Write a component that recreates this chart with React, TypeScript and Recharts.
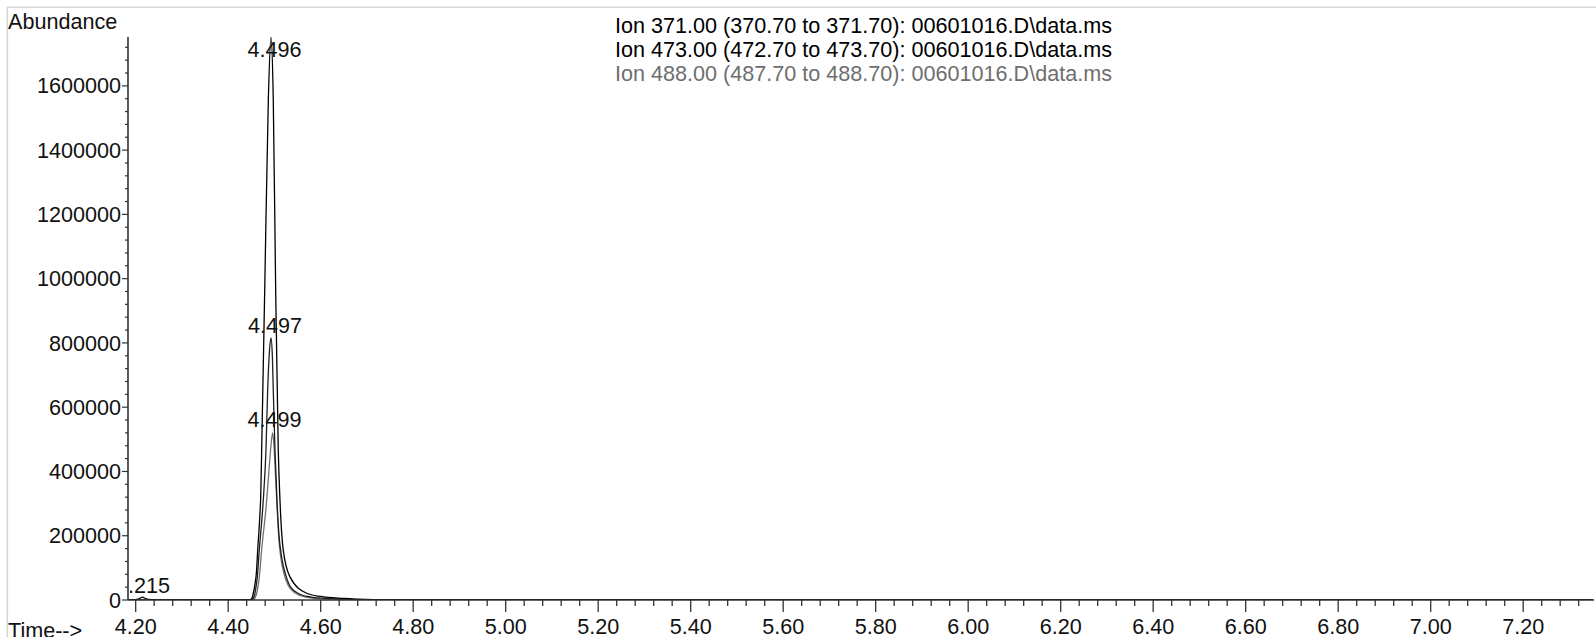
import React from 'react';
import { LineChart, Line, XAxis, YAxis, ReferenceDot } from 'recharts';

const FONT = '"Liberation Sans", Arial, sans-serif';
const FS = 21.6;
const AX = '#333333';

// Ion 371.00 series: [time (min), abundance]
const ion371Pts: [number, number][] = [
  [4.184, 0], [4.2, 1000], [4.205, 2500], [4.21, 6000], [4.215, 9000], [4.22, 5500], [4.228, 2000],
  [4.24, 800], [4.3, 500], [4.4, 500], [4.445, 600], [4.448, 1200], [4.452, 8000], [4.455, 25000],
  [4.458, 50000], [4.461, 85000], [4.464, 160000], [4.468, 250000], [4.4705, 330000], [4.4724, 467000],
  [4.479, 965000], [4.4868, 1556000], [4.4925, 1752000], [4.4975, 1556000], [4.5027, 965000],
  [4.5083, 467000], [4.512, 311000], [4.519, 156000], [4.5336, 72000], [4.5697, 21000], [4.6, 11000],
  [4.65, 5000], [4.69, 2000], [4.75, 1000], [5.0, 800], [5.5, 600], [6.0, 500], [6.5, 500], [7.0, 400],
  [7.35, 400],
];

// Ion 473.00 series
const ion473Pts: [number, number][] = [
  [4.184, 0], [4.3, 300], [4.445, 300], [4.452, 2000], [4.456, 10000], [4.459, 30000], [4.463, 72000],
  [4.4673, 156000], [4.4759, 311000], [4.4817, 467000], [4.4854, 654000], [4.4895, 780000],
  [4.4925, 816000], [4.4955, 760000], [4.4975, 654000], [4.5012, 467000], [4.5055, 311000],
  [4.51, 200000], [4.516, 130000], [4.525, 75000], [4.535, 40000], [4.555, 18000], [4.58, 9000],
  [4.62, 4000], [4.67, 1500], [4.75, 600], [5.5, 400], [7.35, 300],
];

// Ion 488.00 series
const ion488Pts: [number, number][] = [
  [4.184, 0], [4.45, 200], [4.455, 2000], [4.4585, 8000], [4.4616, 21000], [4.4673, 72000],
  [4.4724, 156000], [4.4833, 311000], [4.488, 400000], [4.4925, 480000], [4.496, 520000],
  [4.4995, 470000], [4.5025, 380000], [4.505, 311000], [4.509, 200000], [4.514, 130000],
  [4.521, 80000], [4.53, 45000], [4.545, 22000], [4.565, 10000], [4.6, 4000], [4.65, 1500],
  [4.7, 600], [5.5, 300], [7.35, 200],
];

// Peak annotations
const peakTimes = [4.4925, 4.4925, 4.496, 4.215];
const peakValues = [1752000, 816000, 520000, 9000];
const peakLabels = ['4.496', '4.497', '4.499', '4.215'];

const xMajorTicks = [4.2, 4.4, 4.6, 4.8, 5.0, 5.2, 5.4, 5.6, 5.8, 6.0, 6.2, 6.4, 6.6, 6.8, 7.0, 7.2];
const xMinorTicks: number[] = Array.from({ length: 79 }, (_, i) => Math.round((4.2 + i * 0.04) * 100) / 100);
const yMajorTicks = [0, 200000, 400000, 600000, 800000, 1000000, 1200000, 1400000, 1600000];
const yMinorTicks: number[] = Array.from({ length: 44 }, (_, i) => i * 40000);

const titleLines = [
  'Ion 371.00 (370.70 to 371.70): 00601016.D\\data.ms',
  'Ion 473.00 (472.70 to 473.70): 00601016.D\\data.ms',
  'Ion 488.00 (487.70 to 488.70): 00601016.D\\data.ms',
];
const titleColors = ['#000000', '#000000', '#6e6e6e'];

const toRows = (pts: [number, number][]) => pts.map(([t, v]) => ({ t, v }));
const s371 = toRows(ion371Pts);
const s473 = toRows(ion473Pts);
const s488 = toRows(ion488Pts);

const X_MIN = 4.1834;
const X_MAX = 7.3531;
const Y_MAX = 1752000;
const PLOT_LEFT = 128;

const isIn = (arr: number[], v: number) => arr.some((m) => Math.abs(m - v) < 1e-6);

const XTick = (props: any) => {
  const { x, y, payload } = props;
  const v = payload.value as number;
  const major = isIn(xMajorTicks, v);
  return (
    <g>
      <line x1={x} y1={y} x2={x} y2={y + (major ? 12 : 6)} stroke={AX} strokeWidth={1.3} />
      {major && (
        <text x={x} y={y + 33.5} textAnchor="middle" fontSize={FS} fontFamily={FONT} fill="#111">
          {v.toFixed(2)}
        </text>
      )}
    </g>
  );
};

const YTick = (props: any) => {
  const { x, y, payload } = props;
  const v = payload.value as number;
  const major = isIn(yMajorTicks, v);
  return (
    <g>
      <line x1={x} y1={y} x2={x - (major ? 6 : 3)} y2={y} stroke={AX} strokeWidth={1.2} />
      {major && (
        <text x={x - 7} y={y + 7.6} textAnchor="end" fontSize={FS} fontFamily={FONT} fill="#111">
          {String(v)}
        </text>
      )}
    </g>
  );
};

const labelOffsets = [
  { dx: 3.5, dy: 20 },
  { dx: 4, dy: -4.5 },
  { dx: 2, dy: -5.5 },
  { dx: 0.5, dy: -4 },
];

const makeLabelShape = (i: number) => (p: any) => {
  const { cx, cy } = p;
  const o = labelOffsets[i];
  if (i === 3) {
    return (
      <svg x={PLOT_LEFT + 2} y={0} width={200} height={637} overflow="hidden">
        <text x={cx + o.dx - PLOT_LEFT - 2} y={cy + o.dy} textAnchor="middle" fontSize={FS} fontFamily={FONT} fill="#111">
          {peakLabels[i]}
        </text>
      </svg>
    );
  }
  return (
    <text x={cx + o.dx} y={cy + o.dy} textAnchor="middle" fontSize={FS} fontFamily={FONT} fill="#111">
      {peakLabels[i]}
    </text>
  );
};

export default function App() {
  return (
    <div style={{ position: 'absolute', left: 0, top: 0, width: 1596, height: 637, background: '#fff', overflow: 'hidden' }}>
      <LineChart width={1596} height={637} margin={{ top: 37, right: 2, bottom: 0, left: 0 }}>
        <XAxis
          type="number"
          dataKey="t"
          domain={[X_MIN, X_MAX]}
          allowDataOverflow
          ticks={[...xMinorTicks]}
          interval={0}
          tickSize={0}
          tickMargin={0}
          tickLine={false}
          tick={<XTick />}
          axisLine={{ stroke: AX, strokeWidth: 1.6 }}
          height={37}
        />
        <YAxis
          type="number"
          dataKey="v"
          domain={[0, Y_MAX]}
          allowDataOverflow
          ticks={[...yMinorTicks]}
          interval={0}
          tickSize={0}
          tickMargin={0}
          tickLine={false}
          tick={<YTick />}
          axisLine={{ stroke: AX, strokeWidth: 1.6 }}
          width={PLOT_LEFT}
        />
        <Line data={s488} dataKey="v" type="monotone" stroke="#707070" strokeWidth={1.3} dot={false} isAnimationActive={false} />
        <Line data={s473} dataKey="v" type="monotone" stroke="#1e1e1e" strokeWidth={1.3} dot={false} isAnimationActive={false} />
        <Line data={s371} dataKey="v" type="monotone" stroke="#000000" strokeWidth={1.3} dot={false} isAnimationActive={false} />
        {peakTimes.map((t, i) => (
          <ReferenceDot key={i} x={t} y={peakValues[i]} r={0} ifOverflow="visible" shape={makeLabelShape(i)} />
        ))}
      </LineChart>
      <svg width={1596} height={637} style={{ position: 'absolute', left: 0, top: 0, pointerEvents: 'none' }}>
        <line x1={7} y1={7.3} x2={1596} y2={7.3} stroke="#d6d6d6" strokeWidth={1.6} />
        <line x1={7.3} y1={7} x2={7.3} y2={637} stroke="#d6d6d6" strokeWidth={1.6} />
        <text x={8} y={29} fontSize={FS} fontFamily={FONT} fill="#111">Abundance</text>
        <text x={8} y={638} fontSize={FS} fontFamily={FONT} fill="#111">Time--&gt;</text>
        {titleLines.map((s, i) => (
          <text key={i} x={615} y={32.5 + i * 24.4} fontSize={FS} fontFamily={FONT} fill={titleColors[i]}>
            {s}
          </text>
        ))}
      </svg>
    </div>
  );
}
